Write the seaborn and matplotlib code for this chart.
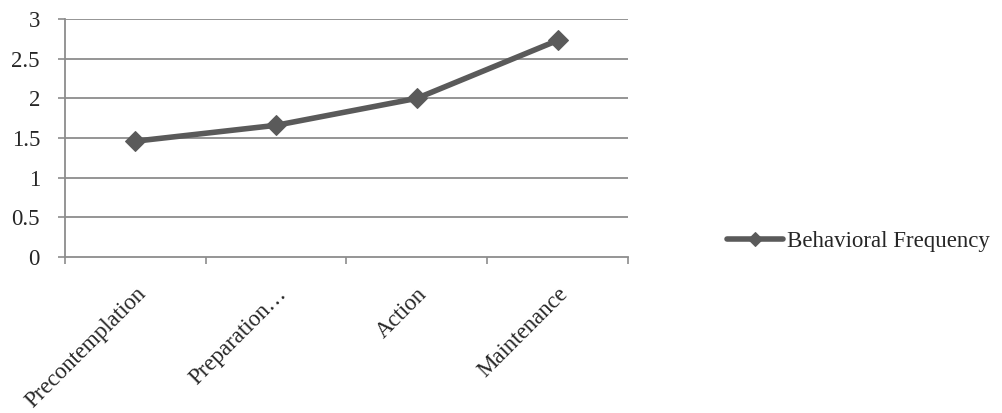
import matplotlib
matplotlib.use("Agg")
import matplotlib.pyplot as plt
import seaborn as sns
import pandas as pd

stages = ["Precontemplation", "Preparation…", "Action", "Maintenance"]
frequency = [1.46, 1.66, 2.0, 2.73]
y_ticks = [0, 0.5, 1, 1.5, 2, 2.5, 3]
y_tick_labels = ["0", "0.5", "1", "1.5", "2", "2.5", "3"]

sns.set_style("white")
plt.rcParams["font.family"] = ["Liberation Serif", "DejaVu Serif"]

df = pd.DataFrame({"stage": stages, "freq": frequency, "x": range(len(stages))})

fig = plt.figure(figsize=(10.03, 4.13), dpi=100)
ax = fig.add_axes([65 / 1003, 1 - 257 / 413, (628 - 65) / 1003, (257 - 19) / 413])

line_color = "#5a5a5a"
grid_color = "#8c8c8c"
fs = 16.5

sns.lineplot(data=df, x="x", y="freq", ax=ax, color=line_color, linewidth=4,
             marker="D", markersize=10, markeredgecolor=line_color,
             label="Behavioral Frequency", legend=False)

ax.set_xlim(-0.5, len(stages) - 0.5)
ax.set_ylim(0, 3)
ax.set_yticks(y_ticks)
ax.set_yticklabels(y_tick_labels, fontsize=fs)

# category boundaries carry the tick marks; labels sit at category centres
ax.set_xticks([i - 0.5 for i in range(len(stages) + 1)])
ax.set_xticklabels([])
ax.set_xticks(range(len(stages)), minor=True)
ax.set_xticklabels(stages, minor=True, rotation=45, ha="right",
                   rotation_mode="anchor", fontsize=fs)
ax.tick_params(axis="x", which="minor", bottom=True, length=0, pad=19)
ax.tick_params(axis="x", which="major", bottom=True, length=5, color=grid_color,
               width=1.2, direction="out")
ax.tick_params(axis="y", left=True, length=5, color=grid_color, width=1.2,
               direction="out", pad=13)

ax.set_xlabel("")
ax.set_ylabel("")
for y in y_ticks[1:]:
    ax.axhline(y, color=grid_color, linewidth=1.3, zorder=0)

for side in ["top", "right"]:
    ax.spines[side].set_visible(False)
for side in ["left", "bottom"]:
    ax.spines[side].set_color(grid_color)
    ax.spines[side].set_linewidth(1.3)

handles, labels = ax.get_legend_handles_labels()
leg = fig.legend(handles, labels, loc="center left", bbox_to_anchor=(727 / 1003, 1 - 241 / 413),
                 frameon=False, fontsize=fs, handlelength=2.45, handletextpad=0.15,
                 borderaxespad=0, borderpad=0)
for h in leg.legend_handles:
    h.set_markersize(7)

fig.savefig("out.png", dpi=100)
